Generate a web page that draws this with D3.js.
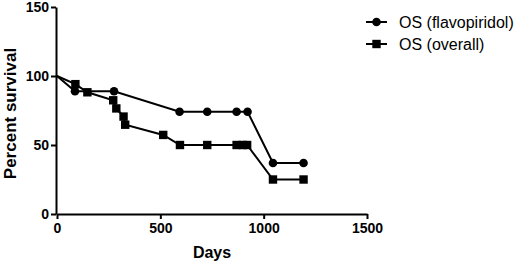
<!DOCTYPE html>
<html>
<head>
<meta charset="utf-8">
<script src="https://cdn.jsdelivr.net/npm/d3@7"></script>
<style>
  body { margin: 0; background: #fff; }
  svg { display: block; font-family: Arial, "Liberation Sans", Helvetica, sans-serif; }
</style>
</head>
<body>
<div id="chart"></div>
<script>
/* DATA */
const seriesNames = ["OS (flavopiridol)", "OS (overall)"];
const flavoDays = [0, 87, 276, 593, 727, 869, 922, 1045, 1193];
const flavoSurvival = [100, 88.9, 88.9, 74.1, 74.1, 74.1, 74.1, 37, 37];
const overallDays = [0, 89, 147, 272, 287, 322, 330, 514, 595, 727, 869, 898, 920, 1045, 1193];
const overallSurvival = [100, 94.1, 88.2, 82.4, 76.5, 70.6, 64.7, 57.3, 50, 50, 50, 50, 50, 25, 25];
const xTicks = [0, 500, 1000, 1500];
const yTicks = [0, 50, 100, 150];

/* CONSTANTS */
const width = 520, height = 264;

const svg = d3.select("#chart").append("svg")
  .attr("width", width)
  .attr("height", height);

const xScale = d3.scaleLinear().domain([0, 1500]).range([57, 367]);
const yScale = d3.scaleLinear().domain([0, 150]).range([214, 7]);

// axes
const xAxis = d3.axisBottom(xScale).tickValues(xTicks).tickFormat(d3.format("d"))
  .tickSize(5).tickSizeOuter(0).tickPadding(4);
const yAxis = d3.axisLeft(yScale).tickValues(yTicks).tickFormat(d3.format("d"))
  .tickSize(5).tickSizeOuter(0).tickPadding(2);

const gx = svg.append("g")
  .attr("transform", `translate(0, ${yScale(0)})`)
  .call(xAxis);
const gy = svg.append("g")
  .attr("transform", `translate(${xScale(0) - 1}, 0)`)
  .call(yAxis);

[gx, gy].forEach(g => {
  g.select(".domain").attr("stroke", "#000").attr("stroke-width", 2);
  g.selectAll(".tick line").attr("stroke", "#000").attr("stroke-width", 2);
  g.selectAll(".tick text")
    .attr("fill", "#000")
    .attr("font-size", 14)
    .attr("font-weight", "bold")
    .attr("font-family", "Arial, 'Liberation Sans', sans-serif");
});

// axis titles
svg.append("text")
  .text("Days")
  .attr("x", (xScale(0) + xScale(1500)) / 2)
  .attr("y", 258)
  .attr("text-anchor", "middle")
  .attr("font-size", 16)
  .attr("font-weight", "bold");

svg.append("text")
  .text("Percent survival")
  .attr("transform", `translate(16, ${(yScale(0) + yScale(150)) / 2 + 3})rotate(-90)`)
  .attr("text-anchor", "middle")
  .attr("font-size", 17)
  .attr("font-weight", "bold");

// lines and markers
const series = [
  { name: seriesNames[0], pts: flavoDays.map((d, i) => ({ x: d, y: flavoSurvival[i] })), shape: "circle" },
  { name: seriesNames[1], pts: overallDays.map((d, i) => ({ x: d, y: overallSurvival[i] })), shape: "square" }
];

const line = d3.line()
  .x(d => xScale(d.x))
  .y(d => yScale(d.y));

function drawMarker(g, shape, cx, cy) {
  if (shape === "circle") {
    g.append("circle").attr("cx", cx).attr("cy", cy).attr("r", 4.3).attr("fill", "#000");
  } else {
    g.append("rect").attr("x", cx - 4.2).attr("y", cy - 4.2).attr("width", 8.4).attr("height", 8.4).attr("fill", "#000");
  }
}

series.forEach(s => {
  svg.append("path")
    .datum(s.pts)
    .attr("fill", "none")
    .attr("stroke", "#000")
    .attr("stroke-width", 2)
    .attr("d", line);
  const g = svg.append("g");
  // first point (day 0) is the curve start, drawn without a marker
  s.pts.slice(1).forEach(p => drawMarker(g, s.shape, xScale(p.x), yScale(p.y)));
});

// legend
const legend = svg.append("g");
series.forEach((s, i) => {
  const ly = 22 + i * 22;
  legend.append("line")
    .attr("x1", 366).attr("x2", 387)
    .attr("y1", ly).attr("y2", ly)
    .attr("stroke", "#000").attr("stroke-width", 2);
  drawMarker(legend, s.shape, 376.5, ly);
  legend.append("text")
    .text(s.name)
    .attr("x", 399)
    .attr("y", ly + 6)
    .attr("font-size", 16)
    .attr("fill", "#000");
});
</script>
</body>
</html>
